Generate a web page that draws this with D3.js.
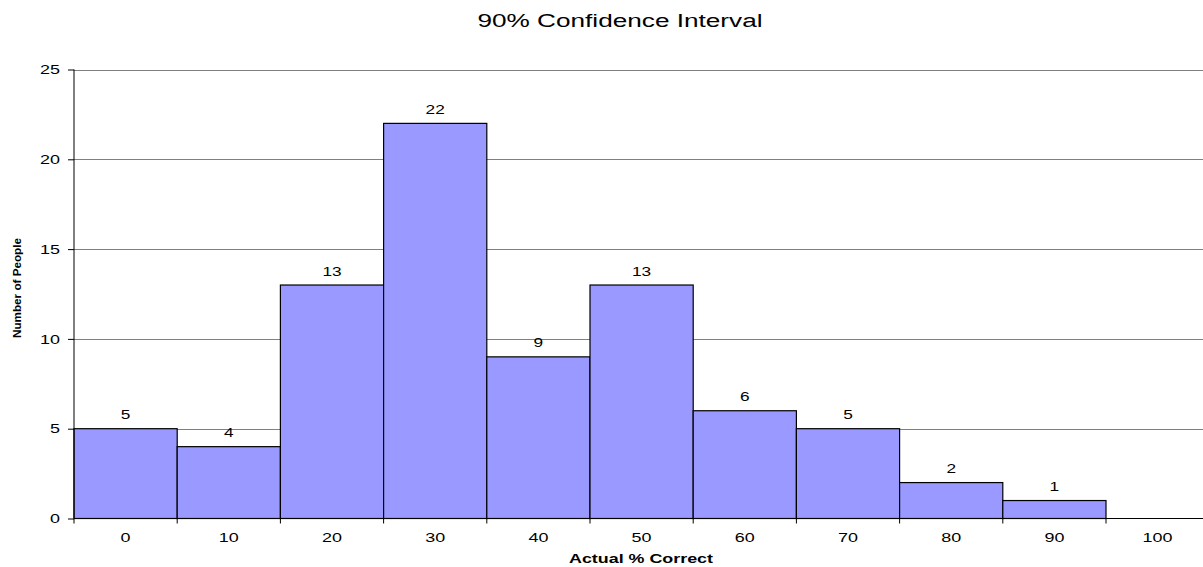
<!DOCTYPE html>
<html>
<head>
<meta charset="utf-8">
<script src="https://cdn.jsdelivr.net/npm/d3@7"></script>
<style>
    body { margin: 0; background: #fff; }
    svg { display: block; font-family: "Liberation Sans", Arial, sans-serif; }
</style>
</head>
<body>
<div id="chart"></div>
<script>
// Chart data
const categories = ['0', '10', '20', '30', '40', '50', '60', '70', '80', '90', '100'];
const counts = [5, 4, 13, 22, 9, 13, 6, 5, 2, 1, 0];
const yTicks = [0, 5, 10, 15, 20, 25];

const width = 1203;
const height = 567;
const margin = { top: 69.5, left: 74, bottom: 518.5 };
const bandW = 103.2;
// the reference text is drawn wider than normal Arial
const stretch = 1.38;

const svg = d3.select('#chart').append('svg')
    .attr('width', width)
    .attr('height', height);

const x = d3.scaleBand()
    .domain(categories)
    .range([margin.left, margin.left + bandW * categories.length])
    .padding(0);

const y = d3.scaleLinear()
    .domain([0, 25])
    .range([margin.bottom, margin.top]);

/**
 * Widens text to match the reference rendering
 */
const widen = (sel, factor) => {
    sel.each(function () {
        const len = this.getComputedTextLength();
        d3.select(this)
            .attr('textLength', len * factor)
            .attr('lengthAdjust', 'spacingAndGlyphs');
    });
};

const barData = categories.map((c, i) => ({ c, v: counts[i] })).filter(d => d.v > 0);

// Grid lines
svg.append('g')
    .selectAll('line')
    .data(yTicks.filter(d => d > 0))
    .enter()
    .append('line')
    .attr('x1', margin.left)
    .attr('x2', width)
    .attr('y1', d => Math.round(y(d)) + 0.5)
    .attr('y2', d => Math.round(y(d)) + 0.5)
    .attr('stroke', '#808080')
    .attr('stroke-width', 1);

// Bars
svg.append('g')
    .selectAll('rect')
    .data(barData)
    .enter()
    .append('rect')
    .attr('x', d => x(d.c))
    .attr('y', d => y(d.v))
    .attr('width', x.bandwidth())
    .attr('height', d => y(0) - y(d.v))
    .attr('fill', '#9999ff')
    .attr('stroke', '#000')
    .attr('stroke-width', 1.2);

// Value labels
svg.append('g')
    .selectAll('text')
    .data(barData)
    .enter()
    .append('text')
    .attr('x', d => x(d.c) + x.bandwidth() / 2)
    .attr('y', d => y(d.v) - 9.5)
    .attr('text-anchor', 'middle')
    .style('font-size', '12.5px')
    .text(d => d.v)
    .call(widen, stretch);

// Y axis
const yAxis = svg.append('g')
    .attr('transform', `translate(${margin.left},0)`)
    .call(d3.axisLeft(y).tickValues(yTicks).tickSize(6).tickPadding(8));
yAxis.selectAll('text')
    .style('font-size', '13px')
    .attr('fill', '#000')
    .call(widen, stretch);
yAxis.selectAll('line').attr('stroke', '#000');
yAxis.select('.domain').attr('stroke', '#000').attr('d', `M0,${margin.bottom}V${margin.top}`);

// X axis with ticks at band boundaries
const xAxisG = svg.append('g')
    .attr('transform', `translate(0,${margin.bottom})`);
xAxisG.append('line')
    .attr('x1', margin.left)
    .attr('x2', width)
    .attr('stroke', '#000')
    .attr('stroke-width', 1.2);
xAxisG.selectAll('.tick')
    .data(categories)
    .enter()
    .append('line')
    .attr('x1', d => x(d))
    .attr('x2', d => x(d))
    .attr('y1', 0)
    .attr('y2', 5)
    .attr('stroke', '#000');
xAxisG.selectAll('text')
    .data(categories)
    .enter()
    .append('text')
    .attr('x', d => x(d) + x.bandwidth() / 2)
    .attr('y', 23.5)
    .attr('text-anchor', 'middle')
    .style('font-size', '13px')
    .text(d => d)
    .call(widen, stretch);

// Title
svg.append('text')
    .attr('x', 620)
    .attr('y', 27)
    .attr('text-anchor', 'middle')
    .style('font-size', '18px')
    .text('90% Confidence Interval')
    .attr('textLength', 285)
    .attr('lengthAdjust', 'spacingAndGlyphs');

// Axis titles
svg.append('text')
    .attr('x', 641)
    .attr('y', 563)
    .attr('text-anchor', 'middle')
    .style('font-size', '13px')
    .style('font-weight', 'bold')
    .text('Actual % Correct')
    .attr('textLength', 144)
    .attr('lengthAdjust', 'spacingAndGlyphs');

svg.append('text')
    .attr('transform', 'translate(21,288) rotate(-90)')
    .attr('text-anchor', 'middle')
    .attr('textLength', 100)
    .attr('lengthAdjust', 'spacingAndGlyphs')
    .style('font-size', '11px')
    .style('font-weight', 'bold')
    .text('Number of People');
</script>
</body>
</html>
